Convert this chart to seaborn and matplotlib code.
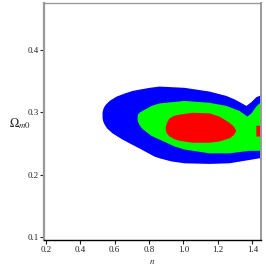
import seaborn as sns
import matplotlib.pyplot as plt

# confidence contours in the (n, Omega_m0) plane
blue_n = [0.530, 0.530, 0.536, 0.546, 0.571, 0.612, 0.660, 0.704, 0.803, 0.861, 1.006, 1.151, 1.249,
          1.300, 1.340, 1.365, 1.394, 1.423, 1.441, 1.50,
          1.50, 1.441, 1.354, 1.267, 1.151, 1.006, 0.930, 0.861, 0.830, 0.803, 0.750, 0.687, 0.640,
          0.588, 0.556, 0.542, 0.534]
blue_om = [0.290, 0.300, 0.306, 0.311, 0.318, 0.325, 0.330, 0.334, 0.339, 0.341, 0.339, 0.333, 0.326,
           0.320, 0.314, 0.310, 0.316, 0.324, 0.326, 0.330,
           0.226, 0.226, 0.222, 0.218, 0.217, 0.218, 0.221, 0.226, 0.229, 0.233, 0.241, 0.250, 0.257,
           0.266, 0.274, 0.280, 0.285]

green_n = [0.733, 0.735, 0.745, 0.762, 0.814, 0.861, 1.006, 1.151, 1.249, 1.325, 1.371, 1.394, 1.423, 1.441, 1.50,
           1.50, 1.441, 1.383, 1.267, 1.151, 1.006, 0.948, 0.861, 0.814, 0.762, 0.745, 0.735]
green_om = [0.290, 0.296, 0.299, 0.302, 0.310, 0.314, 0.318, 0.315, 0.310, 0.302, 0.293, 0.298, 0.309, 0.314, 0.318,
            0.238, 0.238, 0.238, 0.234, 0.234, 0.240, 0.245, 0.256, 0.262, 0.273, 0.279, 0.285]

red_n = [0.896, 0.899, 0.906, 0.919, 0.945, 0.977, 1.052, 1.151, 1.209, 1.267, 1.292, 1.307,
         1.292, 1.267, 1.209, 1.151, 1.052, 0.977, 0.945, 0.919, 0.906, 0.899]
red_om = [0.274, 0.279, 0.284, 0.290, 0.294, 0.296, 0.299, 0.298, 0.293, 0.283, 0.277, 0.270,
          0.263, 0.258, 0.253, 0.251, 0.251, 0.254, 0.257, 0.261, 0.265, 0.269]

red2_n = [1.423, 1.50, 1.50, 1.423]
red2_om = [0.278, 0.279, 0.260, 0.261]

xticks = [0.2, 0.4, 0.6, 0.8, 1.0, 1.2, 1.4]
yticks = [0.1, 0.2, 0.3, 0.4]

sns.set_style("white")
plt.rcParams['font.family'] = ['Liberation Serif', 'DejaVu Serif']
plt.rcParams['mathtext.fontset'] = 'stix'

fig = plt.figure(figsize=(2.66, 2.66), dpi=100)
ax = fig.add_axes([0.1654, 0.0977, 0.8158, 0.891])

ax.fill(blue_n, blue_om, color="#0000ff", lw=0)
ax.fill(green_n, green_om, color="#00ff00", lw=0)
ax.fill(red_n, red_om, color="#ff0000", lw=0)
ax.fill(red2_n, red2_om, color="#ff0000", lw=0)

ax.set_xlim(0.19, 1.45)
ax.set_ylim(0.095, 0.475)
ax.set_xticks(xticks)
ax.set_xticklabels([f"{v:.1f}" for v in xticks])
ax.set_yticks(yticks)
ax.set_yticklabels([f"{v:.1f}" for v in yticks])
ax.tick_params(axis="both", direction="out", length=3, width=0.8, pad=1,
               labelsize=6.5, colors="#222222", bottom=True, left=True)

for side in ["left", "right", "top"]:
    ax.spines[side].set_color("#999999")
ax.spines["left"].set_linewidth(1.6)
ax.spines["right"].set_linewidth(1.4)
ax.spines["top"].set_linewidth(1.0)
ax.spines["bottom"].set_color("black")
ax.spines["bottom"].set_linewidth(1.0)

ax.set_xlabel(r"$n$", fontsize=6.5, labelpad=3)
ax.set_ylabel(r"$\Omega_{\mathit{m0}}$", fontsize=9, rotation=0)
ax.yaxis.set_label_coords(-0.11, 0.46)

fig.savefig("out.png", dpi=100)
